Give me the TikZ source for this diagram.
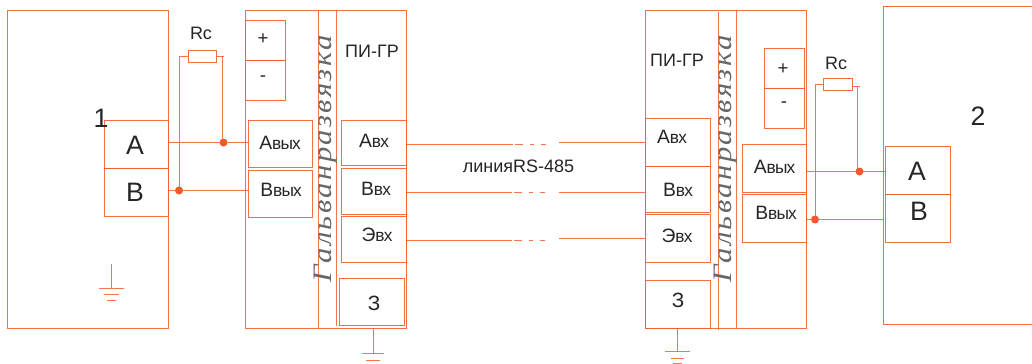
\documentclass[tikz,border=0pt]{standalone}
\usepackage{fontspec}
\setmainfont{Liberation Sans}
\newfontfamily\galvfont[FakeStretch=1.15,LetterSpace=9]{Liberation Serif}
\definecolor{wirec}{HTML}{F0602F}
\definecolor{txtc}{HTML}{262626}
\tikzset{
  x=0.75pt,y=-0.75pt,
  wire/.style={draw=wirec,line width=0.75pt,opacity=0.85},
  boxs/.style={draw=wirec,line width=0.75pt,opacity=0.9,inner sep=0pt,outer sep=0pt,rectangle},
  lbl/.style={text=txtc,inner sep=0pt,outer sep=0pt,anchor=center},
  big/.style={lbl,font=\fontsize{20}{22}\selectfont},
  mid/.style={lbl,font=\fontsize{15.5}{17}\selectfont},
  small/.style={lbl,font=\fontsize{13.5}{15}\selectfont},
  pin/.style={lbl},
  galv/.style={lbl,rotate=90,text=txtc!70,font=\galvfont\itshape\fontsize{20}{22}\selectfont},
  dotn/.style={circle,fill=wirec!90!red,inner sep=0pt,minimum size=6pt,draw=none},
  breakd/.style={wire,dash pattern=on 6pt off 5pt on 3.5pt off 5pt on 3.5pt off 20pt}
}
\newcommand{\bx}[5]{%
  \pgfmathsetmacro{\cxx}{(#2+#4)/2}\pgfmathsetmacro{\cyy}{(#3+#5)/2}%
  \pgfmathsetmacro{\wdd}{(#4-#2)*0.75}\pgfmathsetmacro{\htt}{(#5-#3)*0.75}%
  \node[boxs,minimum width=\wdd pt,minimum height=\htt pt] (#1) at (\cxx,\cyy) {};}
\newcommand{\pintext}[2]{{\fontsize{14.5}{16}\selectfont #1}{\fontsize{13}{15}\selectfont\addfontfeature{LetterSpace=-5}#2}}
\newcommand{\gnd}[7]{% name x y0 y1 half widths
  \coordinate (#1t) at (#2,#3);\coordinate (#1b) at (#2,#4);
  \draw[wire] (#1t) -- (#1b);
  \draw[wire] ([xshift=-#5*0.75pt]#1b) -- ([xshift=#5*0.75pt]#1b);
  \draw[wire] ([xshift=-#6*0.75pt,yshift=-5pt]#1b) -- ([xshift=#6*0.75pt,yshift=-5pt]#1b);
  \draw[wire] ([xshift=-#7*0.75pt,yshift=-9pt]#1b) -- ([xshift=#7*0.75pt,yshift=-9pt]#1b);}
\begin{document}
\begin{tikzpicture}
\clip (0,0) rectangle (1032,364);
\fill[white] (0,0) rectangle (1032,364);
% left device
\bx{devA}{7.5}{10}{168}{328}
\bx{devAa}{104}{120}{168}{168}
\bx{devAb}{104}{168}{168}{216}
\node[big] (n1) at (101,118) {1};
\node[big] (nAa) at (135,145) {A};
\node[big] (nAb) at (135,192) {B};
\gnd{gA}{111.5}{264}{288}{12.5}{7.5}{4.5}
% left converter
\bx{piL}{245.5}{10}{406}{328}
\bx{plusL}{245.5}{20}{285.5}{60}
\bx{minusL}{245.5}{60}{285.5}{100}
\bx{aoutL}{248}{120}{312}{167}
\bx{boutL}{248}{170}{312}{217}
\bx{ainL}{341.5}{120}{406}{165}
\bx{binL}{341.5}{168}{406}{214}
\bx{einL}{341.5}{216}{406}{262}
\bx{zL}{339.5}{278}{404}{325}
\coordinate (gL1t) at (318,10);\coordinate (gL1b) at (318,328);
\coordinate (gL2t) at (336,10);\coordinate (gL2b) at (336,326);
\draw[wire] (gL1t) -- (gL1b);
\draw[wire] (gL2t) -- (gL2b);
\node[galv] (tgL) at (326,159) {Гальванразвязка};
\node[small] (tpiL) at (372,51) {ПИ-ГР};
\node[lbl,font=\fontsize{14}{16}\selectfont] (tplusL) at (263,39) {+};
\node[lbl,font=\fontsize{14}{16}\selectfont] (tminusL) at (263,79) {-};
\node[pin] (taoL) at (280,143) {\pintext{A}{вых}};
\node[pin] (tboL) at (281,190) {\pintext{B}{вых}};
\node[pin] (taiL) at (374,141) {\pintext{A}{вх}};
\node[pin] (tbiL) at (376,189) {\pintext{B}{вх}};
\node[pin] (teiL) at (377,235) {\pintext{Э}{вх}};
\node[mid] (tzL) at (374,303) {З};
\gnd{gL}{373}{328}{353.5}{11}{7}{4}
% left resistor
\bx{rL}{188}{50}{216}{62}
\node[small] (trL) at (201,33) {Rc};
\node[dotn] (dAL) at (223.5,142.5) {};
\node[dotn] (dBL) at (179,190.5) {};
\draw[wire] (devAa.east |- dAL.center) -- (aoutL.west |- dAL.center);
\draw[wire] (devAb.east |- dBL.center) -- (boutL.west |- dBL.center);
\draw[wire] (dBL.center) -- (dBL.center |- rL.west) -- (rL.west);
\draw[wire] (rL.east) -- ++(8,0);
\draw[wire] (dAL.center) ++(-1.5,0) -- ++(0,-87);
% right converter
\bx{piR}{645.5}{10}{806}{328}
\bx{plusR}{764}{48}{804}{88}
\bx{minusR}{764}{88}{804}{128}
\bx{aoutR}{742}{144}{806}{192}
\bx{boutR}{742}{194}{806}{242}
\bx{ainR}{645.5}{118}{710}{166}
\bx{binR}{645.5}{166}{710}{212}
\bx{einR}{645.5}{214}{710}{262}
\bx{zR}{645.5}{280}{710}{328}
\coordinate (gR1t) at (718,12);\coordinate (gR1b) at (718,330);
\coordinate (gR2t) at (736,10);\coordinate (gR2b) at (736,328);
\draw[wire] (gR1t) -- (gR1b);
\draw[wire] (gR2t) -- (gR2b);
\node[galv] (tgR) at (726,159) {Гальванразвязка};
\node[small] (tpiR) at (677,60) {ПИ-ГР};
\node[lbl,font=\fontsize{14}{16}\selectfont] (tplusR) at (783,69) {+};
\node[lbl,font=\fontsize{14}{16}\selectfont] (tminusR) at (784,105) {-};
\node[pin] (taoR) at (774.5,167) {\pintext{A}{вых}};
\node[pin] (tboR) at (776,213) {\pintext{B}{вых}};
\node[pin] (taiR) at (672,137) {\pintext{A}{вх}};
\node[pin] (tbiR) at (678,190) {\pintext{B}{вх}};
\node[pin] (teiR) at (677,236) {\pintext{Э}{вх}};
\node[mid] (tzR) at (678,300) {З};
\gnd{gR}{677.5}{328}{351.5}{12.5}{6.5}{4.5}
% right device
\bx{devB}{883.5}{6}{1040}{324}
\bx{devBa}{885.5}{146}{950}{194}
\bx{devBb}{885.5}{194}{950}{242}
\node[big] (n2) at (978,116) {2};
\node[big] (nBa) at (917,171) {A};
\node[big] (nBb) at (919,211) {B};
% right resistor
\bx{rR}{823.5}{78}{852}{90}
\node[small] (trR) at (836,63) {Rc};
\node[dotn] (dAR) at (859.5,171.5) {};
\node[dotn] (dBR) at (815,219.5) {};
\draw[wire] (aoutR.east |- dAR.center) -- (devBa.west |- dAR.center);
\draw[wire] (boutR.east |- dBR.center) -- (devB.west |- dBR.center);
\draw[wire] (dBR.center) -- (dBR.center |- rR.west) -- (rR.west);
\draw[wire] ([yshift=-1.5pt]rR.east) -- ++(8,0);
\draw[wire] (dAR.center) ++(-2,0) -- ++(0,-85);
% RS-485 line
\node[small] (tline) at (518.5,166) {линияRS-485};
\coordinate (c1a) at (513,144);\coordinate (c1b) at (559,142);
\coordinate (c2a) at (512,192);\coordinate (c2b) at (559,192);
\coordinate (c3a) at (512,240);\coordinate (c3b) at (559,238);
\draw[wire] (ainL.east |- c1a) ++(1,0) -- (c1a);
\draw[wire] (binL.east |- c2a) -- (c2a);
\draw[wire] (einL.east |- c3a) -- (c3a);
\draw[wire] (c1b) -- (c1b -| ainR.west);
\draw[wire] (c2b) -- (c2b -| binR.west);
\draw[wire] (c3b) -- (c3b -| einR.west);
\draw[breakd] (c1a) ++(2,0) -- ++(34,0);
\draw[breakd] (c2a) ++(2,0) -- ++(34,0);
\draw[breakd] (c3a) ++(2,0) -- ++(34,0);
\end{tikzpicture}
\end{document}
